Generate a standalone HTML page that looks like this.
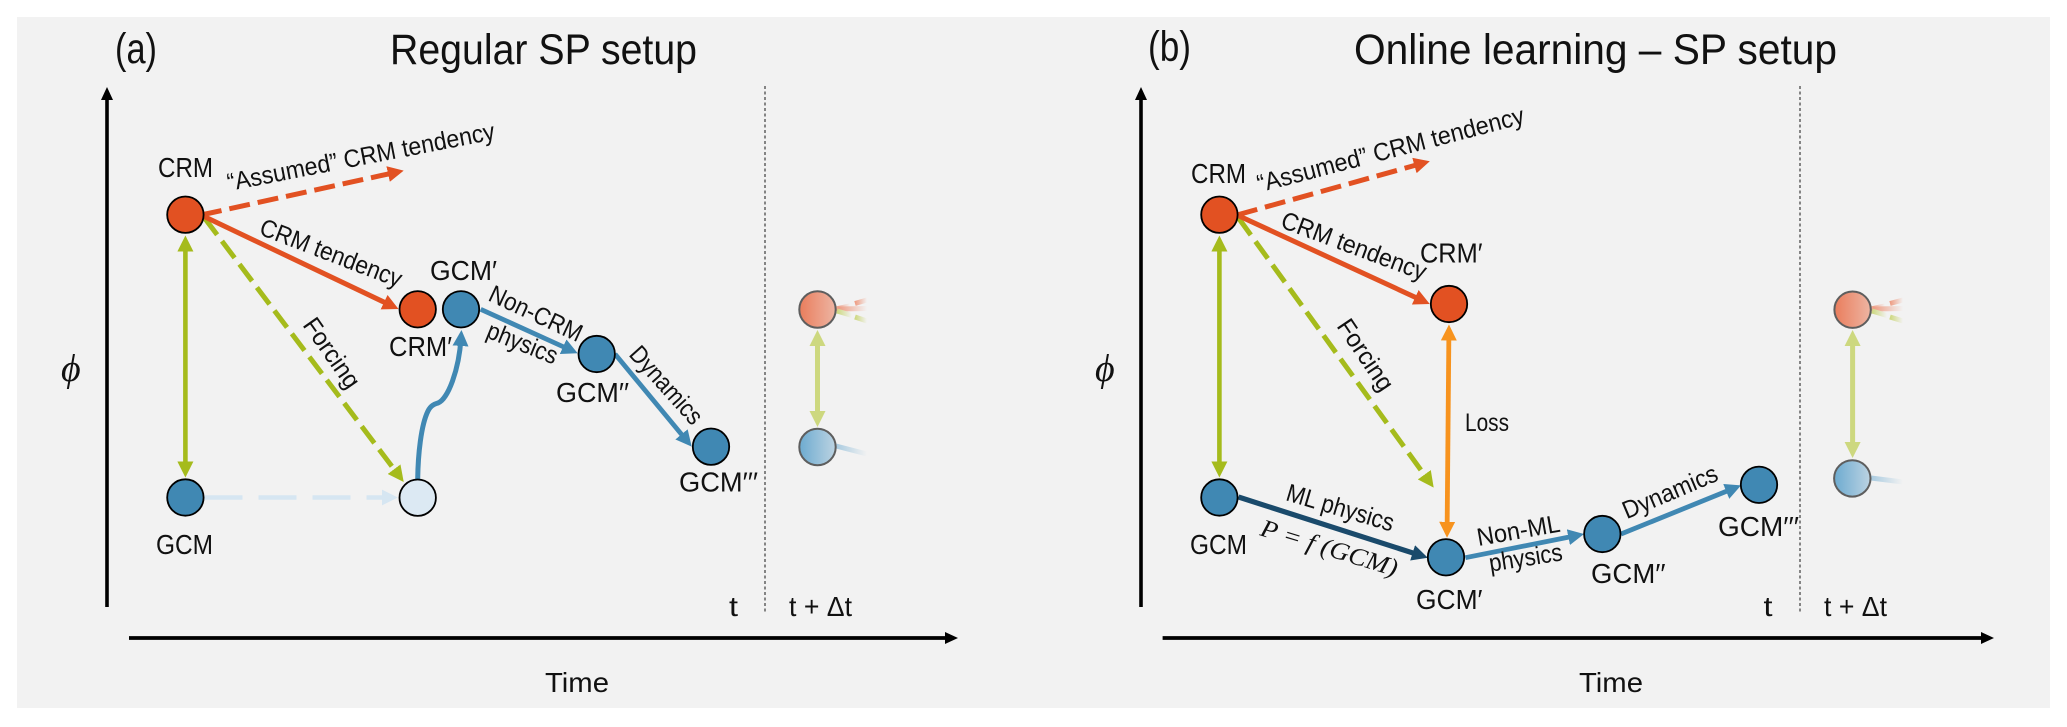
<!DOCTYPE html>
<html lang="en">
<head>
<meta charset="utf-8">
<title>Regular SP setup vs Online learning SP setup</title>
<style>
html,body{margin:0;padding:0;background:#fff;width:2067px;height:727px;overflow:hidden}
svg{display:block}
text{font-family:"Liberation Sans",sans-serif;fill:#111}
.t{font-size:25px}
.n{font-size:28px}
.h{font-size:43px}
.m{font-family:"Liberation Serif",serif;font-style:italic}
.a{fill:none;stroke-linecap:butt}
</style>
</head>
<body>
<svg xmlns="http://www.w3.org/2000/svg" width="2067" height="727" viewBox="0 0 2067 727">
<defs>
<marker id="mk" markerUnits="userSpaceOnUse" markerWidth="13" markerHeight="12" refX="5" refY="6" orient="auto"><path d="M0,0L13,6L0,12z" fill="#000"/></marker>
<marker id="mo" markerUnits="userSpaceOnUse" markerWidth="16" markerHeight="16" refX="8" refY="8" orient="auto"><path d="M0,0L16,8L0,16z" fill="#e25122"/></marker>
<marker id="mg" markerUnits="userSpaceOnUse" markerWidth="16" markerHeight="16" refX="8" refY="8" orient="auto-start-reverse"><path d="M0,0L16,8L0,16z" fill="#a5bb1c"/></marker>
<marker id="mp" markerUnits="userSpaceOnUse" markerWidth="16" markerHeight="16" refX="8" refY="8" orient="auto-start-reverse"><path d="M0,0L16,8L0,16z" fill="#cdd87f"/></marker>
<marker id="mb" markerUnits="userSpaceOnUse" markerWidth="16" markerHeight="16" refX="8" refY="8" orient="auto"><path d="M0,0L16,8L0,16z" fill="#4088b3"/></marker>
<marker id="ml" markerUnits="userSpaceOnUse" markerWidth="16" markerHeight="16" refX="8" refY="8" orient="auto"><path d="M0,0L16,8L0,16z" fill="#d6e6f2"/></marker>
<marker id="md" markerUnits="userSpaceOnUse" markerWidth="16" markerHeight="16" refX="8" refY="8" orient="auto"><path d="M0,0L16,8L0,16z" fill="#1a4a6b"/></marker>
<marker id="mf" markerUnits="userSpaceOnUse" markerWidth="16" markerHeight="16" refX="8" refY="8" orient="auto-start-reverse"><path d="M0,0L16,8L0,16z" fill="#f7931e"/></marker>
<linearGradient id="gr" x1="0" x2="1" y1="0" y2="0"><stop offset="0" stop-color="#ea7d5c"/><stop offset="1" stop-color="#edb5a3"/></linearGradient>
<linearGradient id="gb" x1="0" x2="1" y1="0" y2="0"><stop offset="0" stop-color="#6dabd0"/><stop offset="1" stop-color="#bcd3e2"/></linearGradient>
<linearGradient id="sr" x1="0" x2="1" y1="0" y2="0"><stop offset="0" stop-color="#ee9c82"/><stop offset="1" stop-color="#f2f2f2"/></linearGradient>
<linearGradient id="sg" x1="0" x2="1" y1="0" y2="0"><stop offset="0" stop-color="#cdd87f"/><stop offset="1" stop-color="#f2f2f2"/></linearGradient>
<linearGradient id="sb" x1="0" x2="1" y1="0" y2="0"><stop offset="0" stop-color="#a9cbe0"/><stop offset="1" stop-color="#f2f2f2"/></linearGradient>
</defs>

<rect x="17" y="17" width="2033" height="691" fill="#f2f2f2"/>

<!-- PANEL A -->
<g>
<text class="h" x="115" y="63" textLength="42" lengthAdjust="spacingAndGlyphs">(a)</text>
<text class="h" x="390" y="64" textLength="307" lengthAdjust="spacingAndGlyphs">Regular SP setup</text>
<line x1="107" y1="607" x2="107" y2="95" stroke="#000" stroke-width="3.6" marker-end="url(#mk)"/>
<line x1="129" y1="638" x2="950" y2="638" stroke="#000" stroke-width="3.8" marker-end="url(#mk)"/>
<line x1="765" y1="86" x2="765" y2="612" stroke="#555" stroke-width="1.4" stroke-dasharray="3 2.5"/>
<text class="m" x="61" y="381" font-size="38">ϕ</text>
<text class="n" x="545" y="692" textLength="64" lengthAdjust="spacingAndGlyphs">Time</text>
<text class="n" x="729" y="616" textLength="9" lengthAdjust="spacingAndGlyphs">t</text>
<text class="n" x="789" y="616" textLength="63" lengthAdjust="spacingAndGlyphs">t + Δt</text>

<line class="a" x1="201" y1="215" x2="395.9" y2="172.3" stroke="#e25122" stroke-width="5" stroke-dasharray="21 8" marker-end="url(#mo)"/>
<line class="a" x1="204.5" y1="218" x2="398.9" y2="475.6" stroke="#a5bb1c" stroke-width="5" stroke-dasharray="21 8" marker-end="url(#mg)"/>
<line class="a" x1="201" y1="215" x2="391.3" y2="305.6" stroke="#e25122" stroke-width="5" marker-end="url(#mo)"/>
<line class="a" x1="185.4" y1="243.5" x2="185.4" y2="469.5" stroke="#a5bb1c" stroke-width="4.6" marker-start="url(#mg)" marker-end="url(#mg)"/>
<line class="a" x1="204.5" y1="497.5" x2="389.8" y2="497.5" stroke="#d6e6f2" stroke-width="4.6" stroke-dasharray="38 16" marker-end="url(#ml)"/>
<path class="a" d="M417.7,479C418,455 421,425 428,411C431,405 435,404 438,403C448,399 459,370 461,338" stroke="#4088b3" stroke-width="5" marker-end="url(#mb)"/>
<line class="a" x1="480.7" y1="309.3" x2="570.4" y2="350" stroke="#4088b3" stroke-width="4.8" marker-end="url(#mb)"/>
<line class="a" x1="615" y1="354" x2="686.6" y2="440.5" stroke="#4088b3" stroke-width="4.8" marker-end="url(#mb)"/>

<line x1="836" y1="309" x2="850" y2="306" stroke="url(#sr)" stroke-width="5"/>
<line x1="855" y1="303.5" x2="867" y2="300" stroke="url(#sr)" stroke-width="5"/>
<line x1="838" y1="309" x2="867" y2="308.5" stroke="url(#sr)" stroke-width="5"/>
<line x1="837" y1="311" x2="852" y2="315.5" stroke="url(#sg)" stroke-width="5"/>
<line x1="855" y1="317" x2="867" y2="321" stroke="url(#sg)" stroke-width="5"/>
<line x1="836" y1="446" x2="867" y2="454" stroke="url(#sb)" stroke-width="5"/>
<line class="a" x1="817.5" y1="338" x2="817.5" y2="419" stroke="#cdd87f" stroke-width="5" marker-start="url(#mp)" marker-end="url(#mp)"/>

<circle cx="185.4" cy="214.7" r="18.2" fill="#e25122" stroke="#000" stroke-width="1.8"/>
<circle cx="185.4" cy="497.5" r="18.2" fill="#4088b3" stroke="#000" stroke-width="1.8"/>
<circle cx="417.7" cy="309.3" r="18.2" fill="#e25122" stroke="#000" stroke-width="1.8"/>
<circle cx="461" cy="309.3" r="18.2" fill="#4088b3" stroke="#000" stroke-width="1.8"/>
<circle cx="596.7" cy="354" r="18.2" fill="#4088b3" stroke="#000" stroke-width="1.8"/>
<circle cx="711" cy="446.7" r="18.2" fill="#4088b3" stroke="#000" stroke-width="1.8"/>
<circle cx="417.7" cy="497.7" r="18.2" fill="#dce9f3" stroke="#000" stroke-width="1.8"/>
<circle cx="817.5" cy="309.5" r="18.2" fill="url(#gr)" stroke="#5e5e5e" stroke-width="2"/>
<circle cx="817.5" cy="447" r="18.2" fill="url(#gb)" stroke="#5e5e5e" stroke-width="2"/>

<text class="n" x="158" y="177" textLength="55" lengthAdjust="spacingAndGlyphs">CRM</text>
<text class="n" x="156" y="554" textLength="57" lengthAdjust="spacingAndGlyphs">GCM</text>
<text class="n" x="389" y="356" textLength="63" lengthAdjust="spacingAndGlyphs">CRM′</text>
<text class="n" x="430" y="280" textLength="67" lengthAdjust="spacingAndGlyphs">GCM′</text>
<text class="n" x="556" y="402" textLength="73" lengthAdjust="spacingAndGlyphs">GCM′′</text>
<text class="n" x="679" y="491.7" textLength="79" lengthAdjust="spacingAndGlyphs">GCM′′′</text>
<text class="t" transform="translate(229,191) rotate(-11)" textLength="272" lengthAdjust="spacingAndGlyphs">“Assumed” CRM tendency</text>
<text class="t" transform="translate(258,234) rotate(21)" textLength="150" lengthAdjust="spacingAndGlyphs">CRM tendency</text>
<text class="t" transform="translate(302,325) rotate(55)" textLength="80" lengthAdjust="spacingAndGlyphs">Forcing</text>
<text class="t" transform="translate(487,300) rotate(25)" textLength="100" lengthAdjust="spacingAndGlyphs">Non-CRM</text>
<text class="t" transform="translate(485,337) rotate(22)" textLength="74" lengthAdjust="spacingAndGlyphs">physics</text>
<text class="t" transform="translate(628,355) rotate(48)" textLength="96" lengthAdjust="spacingAndGlyphs">Dynamics</text>
</g>

<!-- PANEL B -->
<g>
<text class="h" x="1148" y="61" textLength="43" lengthAdjust="spacingAndGlyphs">(b)</text>
<text class="h" x="1354" y="64" textLength="483" lengthAdjust="spacingAndGlyphs">Online learning – SP setup</text>
<line x1="1141" y1="607" x2="1141" y2="95" stroke="#000" stroke-width="3.6" marker-end="url(#mk)"/>
<line x1="1162.6" y1="638" x2="1986" y2="638" stroke="#000" stroke-width="3.8" marker-end="url(#mk)"/>
<line x1="1800" y1="86" x2="1800" y2="612" stroke="#555" stroke-width="1.4" stroke-dasharray="3 2.5"/>
<text class="m" x="1095" y="381" font-size="38">ϕ</text>
<text class="n" x="1579" y="692" textLength="64" lengthAdjust="spacingAndGlyphs">Time</text>
<text class="n" x="1763.5" y="616" textLength="9" lengthAdjust="spacingAndGlyphs">t</text>
<text class="n" x="1824" y="616" textLength="63" lengthAdjust="spacingAndGlyphs">t + Δt</text>

<line class="a" x1="1237" y1="215" x2="1422.1" y2="163.4" stroke="#e25122" stroke-width="5" stroke-dasharray="21 8" marker-end="url(#mo)"/>
<line class="a" x1="1238.5" y1="218" x2="1429" y2="481.2" stroke="#a5bb1c" stroke-width="5" stroke-dasharray="21 8" marker-end="url(#mg)"/>
<line class="a" x1="1237" y1="215" x2="1422.5" y2="300.6" stroke="#e25122" stroke-width="5" marker-end="url(#mo)"/>
<line class="a" x1="1219.4" y1="243.5" x2="1219.4" y2="469.5" stroke="#a5bb1c" stroke-width="4.6" marker-start="url(#mg)" marker-end="url(#mg)"/>
<line class="a" x1="1448.9" y1="332.5" x2="1447.1" y2="529.8" stroke="#f7931e" stroke-width="4.8" marker-start="url(#mf)" marker-end="url(#mf)"/>
<line class="a" x1="1238.5" y1="497" x2="1420.2" y2="555.3" stroke="#1a4a6b" stroke-width="5.2" marker-end="url(#md)"/>
<line class="a" x1="1465.4" y1="557.7" x2="1576.2" y2="535.6" stroke="#4088b3" stroke-width="4.8" marker-end="url(#mb)"/>
<line class="a" x1="1621" y1="534" x2="1733.6" y2="488.4" stroke="#4088b3" stroke-width="4.8" marker-end="url(#mb)"/>

<line x1="1871" y1="309" x2="1885" y2="306" stroke="url(#sr)" stroke-width="5"/>
<line x1="1890" y1="303.5" x2="1903" y2="300" stroke="url(#sr)" stroke-width="5"/>
<line x1="1873" y1="309" x2="1903" y2="308.5" stroke="url(#sr)" stroke-width="5"/>
<line x1="1872" y1="311" x2="1887" y2="315.5" stroke="url(#sg)" stroke-width="5"/>
<line x1="1890" y1="317" x2="1903" y2="321" stroke="url(#sg)" stroke-width="5"/>
<line x1="1871" y1="478" x2="1903" y2="482" stroke="url(#sb)" stroke-width="5"/>
<line class="a" x1="1852.6" y1="338" x2="1852.6" y2="450" stroke="#cdd87f" stroke-width="5" marker-start="url(#mp)" marker-end="url(#mp)"/>

<circle cx="1219.4" cy="214.7" r="18.2" fill="#e25122" stroke="#000" stroke-width="1.8"/>
<circle cx="1219.4" cy="497.5" r="18.2" fill="#4088b3" stroke="#000" stroke-width="1.8"/>
<circle cx="1449" cy="304" r="18.2" fill="#e25122" stroke="#000" stroke-width="1.8"/>
<circle cx="1446" cy="557.3" r="18.2" fill="#4088b3" stroke="#000" stroke-width="1.8"/>
<circle cx="1602.3" cy="534" r="18.2" fill="#4088b3" stroke="#000" stroke-width="1.8"/>
<circle cx="1759" cy="484.8" r="18.2" fill="#4088b3" stroke="#000" stroke-width="1.8"/>
<circle cx="1852.6" cy="309.7" r="18.2" fill="url(#gr)" stroke="#5e5e5e" stroke-width="2"/>
<circle cx="1852.3" cy="478.4" r="18.2" fill="url(#gb)" stroke="#5e5e5e" stroke-width="2"/>

<text class="n" x="1191" y="183" textLength="55" lengthAdjust="spacingAndGlyphs">CRM</text>
<text class="n" x="1190" y="554" textLength="57" lengthAdjust="spacingAndGlyphs">GCM</text>
<text class="n" x="1420" y="262.4" textLength="62.5" lengthAdjust="spacingAndGlyphs">CRM′</text>
<text class="n" x="1416" y="609" textLength="66.5" lengthAdjust="spacingAndGlyphs">GCM′</text>
<text class="n" x="1591" y="583" textLength="74.6" lengthAdjust="spacingAndGlyphs">GCM′′</text>
<text class="n" x="1718" y="536" textLength="81" lengthAdjust="spacingAndGlyphs">GCM′′′</text>
<text class="t" x="1465" y="431" textLength="44" lengthAdjust="spacingAndGlyphs">Loss</text>
<text class="t" transform="translate(1259.6,192.4) rotate(-14.6)" textLength="275" lengthAdjust="spacingAndGlyphs">“Assumed” CRM tendency</text>
<text class="t" transform="translate(1279.4,227) rotate(20.5)" textLength="153" lengthAdjust="spacingAndGlyphs">CRM tendency</text>
<text class="t" transform="translate(1336,326) rotate(56)" textLength="81" lengthAdjust="spacingAndGlyphs">Forcing</text>
<text class="t" transform="translate(1284.8,500) rotate(16.5)" textLength="111" lengthAdjust="spacingAndGlyphs">ML physics</text>
<text class="t m" transform="translate(1259,535) rotate(17)" textLength="142" lengthAdjust="spacingAndGlyphs">P = f (GCM)</text>
<text class="t" transform="translate(1478.5,546) rotate(-10)" textLength="84" lengthAdjust="spacingAndGlyphs">Non-ML</text>
<text class="t" transform="translate(1490.4,571.7) rotate(-9)" textLength="74" lengthAdjust="spacingAndGlyphs">physics</text>
<text class="t" transform="translate(1626.8,519.3) rotate(-23)" textLength="101" lengthAdjust="spacingAndGlyphs">Dynamics</text>
</g>
</svg>
</body>
</html>
